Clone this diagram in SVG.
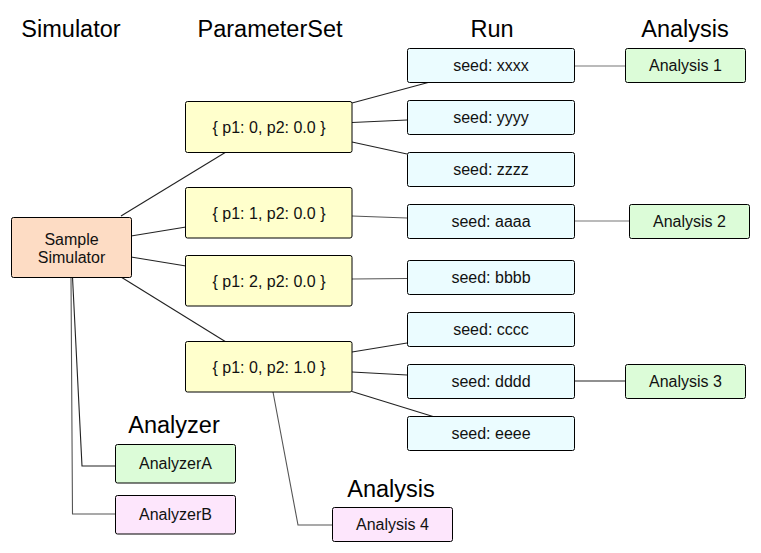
<svg xmlns="http://www.w3.org/2000/svg" width="761" height="553" viewBox="0 0 761 553">
<style>
.t{font-family:"Liberation Sans",Arial,sans-serif;font-size:23.5px;fill:#000;text-anchor:middle}
.n{font-family:"Liberation Sans",Arial,sans-serif;font-size:16px;fill:#111;text-anchor:middle}
.b{stroke:#000;stroke-width:1}
.sim{fill:#fddcc4}
.ps{fill:#ffffcc}
.run{fill:#ebfcff}
.ana{fill:#dcfcd8}
.pk{fill:#fde6fc}
.c line,.c polyline{stroke:#222;stroke-width:1.1;fill:none}
.c .g{stroke:#555}
.c .l{stroke:#777}
</style>
<rect width="761" height="553" fill="#fff"/>
<g id="titles">
<text class="t" x="71" y="37">Simulator</text>
<text class="t" x="270" y="37">ParameterSet</text>
<text class="t" x="492" y="37">Run</text>
<text class="t" x="685" y="37">Analysis</text>
<text class="t" x="174" y="433">Analyzer</text>
<text class="t" x="391" y="497">Analysis</text>
</g>
<g class="c" id="connectors">
<line x1="121" y1="216" x2="226" y2="152"/>
<line x1="131" y1="236" x2="186" y2="227"/>
<line x1="131" y1="257" x2="186" y2="266"/>
<line x1="121" y1="277" x2="226" y2="342"/>
<polyline points="72.5,277 82,466 115,466"/>
<polyline class="g" points="71,277 72.5,514 115,514"/>
<polyline class="g" points="273,392 298,525 332,525"/>
<line x1="352" y1="103" x2="430" y2="82"/>
<line x1="352" y1="122.5" x2="407" y2="120"/>
<line x1="352" y1="142" x2="407" y2="154"/>
<line class="g" x1="352" y1="216" x2="407" y2="218"/>
<line class="g" x1="352" y1="279" x2="407" y2="278.5"/>
<line x1="352" y1="352" x2="407" y2="343"/>
<line x1="352" y1="372" x2="407" y2="375"/>
<line x1="352" y1="391.5" x2="433" y2="416.5"/>
<line class="l" x1="574" y1="66" x2="626" y2="66"/>
<line class="l" x1="574" y1="221" x2="629" y2="221"/>
<line x1="574" y1="381" x2="626" y2="381"/>
</g>
<g id="sim">
<rect class="b sim" x="11.5" y="217.5" width="120" height="60" rx="2"/>
<text class="n" x="71.5" y="245">Sample</text>
<text class="n" x="71.5" y="263">Simulator</text>
</g>
<g id="ps1"><rect class="b ps" x="185.5" y="101.5" width="166.5" height="51" rx="2"/><text class="n" x="269" y="132.5">{ p1: 0, p2: 0.0 }</text></g>
<g id="ps2"><rect class="b ps" x="185.5" y="187.5" width="166.5" height="50.5" rx="2"/><text class="n" x="269" y="218.5">{ p1: 1, p2: 0.0 }</text></g>
<g id="ps3"><rect class="b ps" x="185.5" y="255.5" width="166.5" height="50.5" rx="2"/><text class="n" x="269" y="286.5">{ p1: 2, p2: 0.0 }</text></g>
<g id="ps4"><rect class="b ps" x="185.5" y="341.5" width="166.5" height="50.5" rx="2"/><text class="n" x="269" y="372.5">{ p1: 0, p2: 1.0 }</text></g>
<g id="run1"><rect class="b run" x="407.5" y="48.5" width="167" height="34" rx="2"/><text class="n" x="491" y="71">seed: xxxx</text></g>
<g id="run2"><rect class="b run" x="407.5" y="100.5" width="167" height="34" rx="2"/><text class="n" x="491" y="123">seed: yyyy</text></g>
<g id="run3"><rect class="b run" x="407.5" y="152.5" width="167" height="34" rx="2"/><text class="n" x="491" y="175">seed: zzzz</text></g>
<g id="run4"><rect class="b run" x="407.5" y="204.5" width="167" height="34" rx="2"/><text class="n" x="491" y="227">seed: aaaa</text></g>
<g id="run5"><rect class="b run" x="407.5" y="260.5" width="167" height="34" rx="2"/><text class="n" x="491" y="283">seed: bbbb</text></g>
<g id="run6"><rect class="b run" x="407.5" y="312.5" width="167" height="34" rx="2"/><text class="n" x="491" y="335">seed: cccc</text></g>
<g id="run7"><rect class="b run" x="407.5" y="364.5" width="167" height="34" rx="2"/><text class="n" x="491" y="387">seed: dddd</text></g>
<g id="run8"><rect class="b run" x="407.5" y="416.5" width="167" height="34" rx="2"/><text class="n" x="491" y="439">seed: eeee</text></g>
<g id="an1"><rect class="b ana" x="625.5" y="48.5" width="120" height="34" rx="2"/><text class="n" x="685.5" y="71">Analysis 1</text></g>
<g id="an2"><rect class="b ana" x="629.5" y="204.5" width="120" height="34" rx="2"/><text class="n" x="689.5" y="227">Analysis 2</text></g>
<g id="an3"><rect class="b ana" x="625.5" y="364.5" width="120" height="34" rx="2"/><text class="n" x="685.5" y="387">Analysis 3</text></g>
<g id="an4"><rect class="b pk" x="332.5" y="507.5" width="120" height="34" rx="2"/><text class="n" x="392.5" y="530">Analysis 4</text></g>
<g id="azA"><rect class="b ana" x="115.5" y="444.5" width="120" height="38.5" rx="2"/><text class="n" x="175.5" y="469">AnalyzerA</text></g>
<g id="azB"><rect class="b pk" x="115.5" y="495.5" width="120" height="38.5" rx="2"/><text class="n" x="175.5" y="520">AnalyzerB</text></g>
</svg>
